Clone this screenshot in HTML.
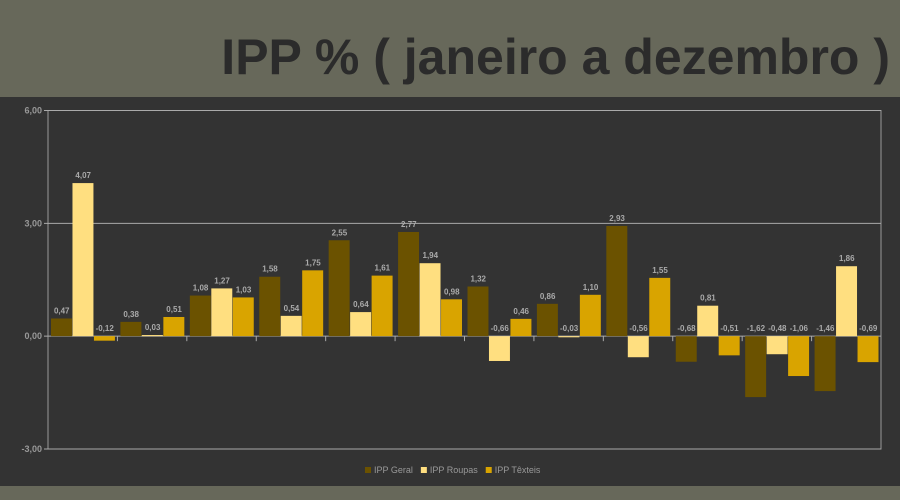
<!DOCTYPE html>
<html><head><meta charset="utf-8"><style>
body{margin:0;width:900px;height:500px;overflow:hidden;background:#333;font-family:"Liberation Sans",sans-serif}
#hdr{position:absolute;left:0;top:0;width:900px;height:97px;background:#67685a}
#title{position:absolute;right:10px;top:28px;font-size:50px;font-weight:bold;color:#2b2b2b;white-space:nowrap;letter-spacing:0px}
#ftr{position:absolute;left:0;top:486px;width:900px;height:14px;background:#67685a}
svg{position:absolute;left:0;top:0}
</style></head><body>
<div id="hdr"><div id="title">IPP % ( janeiro a dezembro )</div></div>
<div id="ftr"></div>
<svg id="chart" width="900" height="500"></svg>
<script>
const months=["jan","fev","mar","abr","mai","jun","jul","ago","set","out","nov","dez"];
const geral=[0.47,0.38,1.08,1.58,2.55,2.77,1.32,0.86,2.93,-0.68,-1.62,-1.46];
const roupas=[4.07,0.03,1.27,0.54,0.64,1.94,-0.66,-0.03,-0.56,0.81,-0.48,1.86];
const texteis=[-0.12,0.51,1.03,1.75,1.61,0.98,0.46,1.10,1.55,-0.51,-1.06,-0.69];
const ticks=[6,3,0,-3];
const seriesNames=["IPP Geral","IPP Roupas","IPP Têxteis"];
const colors=["#6b5200","#ffdf80","#d9a400"];
const NS="http://www.w3.org/2000/svg";
const svg=document.getElementById('chart');
const L=48,R=881,T=110.5,B=449;
const y=v=>T+(6-v)/9*(B-T);
const gw=(R-L)/months.length;
function mk(t,a,p){const e=document.createElementNS(NS,t);for(const k in a)e.setAttribute(k,a[k]);(p||svg).appendChild(e);return e;}
const fmt=v=>v.toFixed(2).replace('.',',');
mk('rect',{x:L,y:T,width:R-L,height:B-T,fill:'none',stroke:'#999','stroke-width':1});
ticks.forEach(t=>{
  const g=mk('line',{x1:L-4,x2:R,y1:y(t),y2:y(t),stroke:'#aaa','stroke-width':1});
  
  
  const tx=mk('text',{x:L-6,y:y(t)+3,'text-anchor':'end','font-size':9,'font-weight':'bold',fill:'#999'});
  tx.textContent=fmt(t);
  
  
});
for(let i=1;i<months.length;i++){mk('line',{x1:L+gw*i,x2:L+gw*i,y1:y(0),y2:y(0)+5,stroke:'#aaa'});}
const data=[geral,roupas,texteis];
const bw=(gw-5)/3;
months.forEach((m,i)=>{
  data.forEach((s,j)=>{
    const v=s[i];const x=L+gw*i+3+bw*j;
    const r=mk('rect',{x:x,y:Math.min(y(v),y(0)),width:bw-0.5,height:Math.abs(y(v)-y(0)),fill:colors[j]});
    
    
    const t=mk('text',{x:x+bw/2,y:(v>=0?y(v):y(0))-5,'text-anchor':'middle','font-size':8,'font-weight':'bold',fill:'#aaa'});
    t.textContent=fmt(v);
    
    
  });
});
let lx=365;
seriesNames.forEach((n,j)=>{
  const g=mk('g',{});
  
  
  mk('rect',{x:lx,y:467,width:6,height:6,fill:colors[j]},g);
  const t=mk('text',{x:lx+9,y:473,'font-size':9,fill:'#999'},g);
  t.textContent=n;
  lx+=9+t.getComputedTextLength()+8;
});
</script>
</body></html>
